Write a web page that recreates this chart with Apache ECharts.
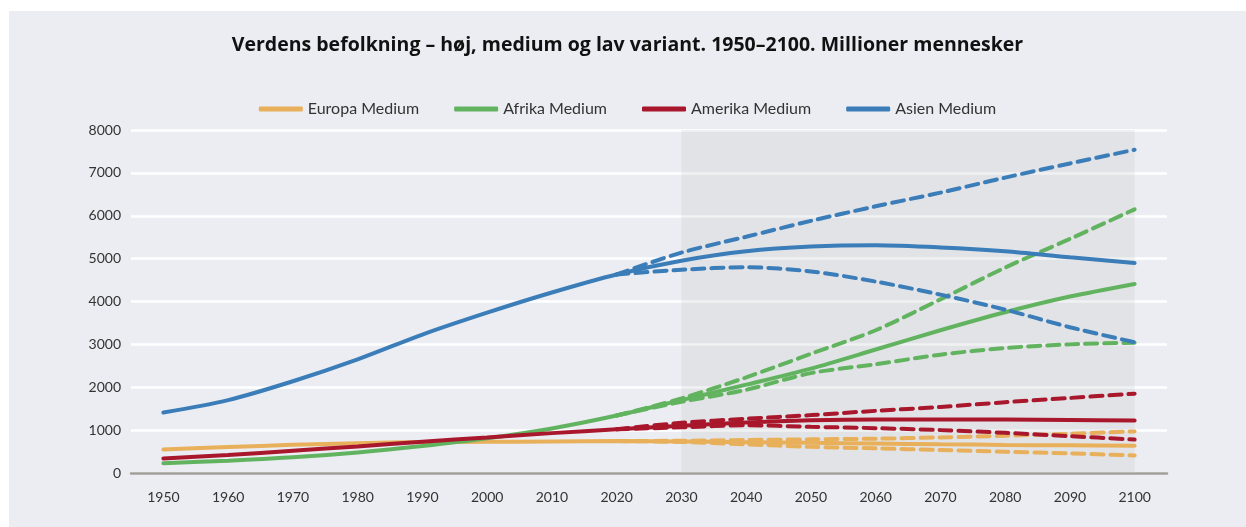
<!DOCTYPE html>
<html>
<head>
<meta charset="utf-8">
<script src="https://cdn.jsdelivr.net/npm/echarts@6/dist/echarts.min.js"></script>
<style>
  html, body { margin: 0; padding: 0; background: #ffffff; }
  #main { position: absolute; left: 9px; top: 11px; width: 1237px; height: 516px; background: #ecedf2; }
</style>
</head>
<body>
<div id="main"></div>
<script>
// År (kategorier)
const years = ['1950', '1960', '1970', '1980', '1990', '2000', '2010', '2020',
  '2030', '2040', '2050', '2060', '2070', '2080', '2090', '2100']

// Medium-varianter (millioner)
const europaMedium = [550, 605, 657, 694, 721, 727, 736, 745, 736, 720, 705, 688, 670, 655, 645, 635]
const afrikaMedium = [230, 285, 365, 480, 630, 810, 1040, 1340, 1700, 2060, 2435, 2880, 3330, 3750, 4115, 4410]
const amerikaMedium = [340, 420, 520, 620, 730, 830, 930, 1020, 1100, 1180, 1230, 1250, 1250, 1245, 1235, 1225]
const asienMedium = [1410, 1700, 2140, 2650, 3230, 3740, 4210, 4630, 4950, 5170, 5280, 5310, 5260, 5170, 5030, 4900]

// Høj og lav variant (fra 2020)
const europaHoj = [null, null, null, null, null, null, null, 745, 752, 770, 785, 800, 830, 870, 915, 970]
const europaLav = [null, null, null, null, null, null, null, 745, 725, 670, 610, 575, 535, 495, 458, 410]
const afrikaHoj = [null, null, null, null, null, null, null, 1340, 1740, 2230, 2780, 3330, 4050, 4790, 5460, 6150]
const afrikaLav = [null, null, null, null, null, null, null, 1340, 1660, 1940, 2330, 2535, 2760, 2915, 3000, 3040]
const amerikaHoj = [null, null, null, null, null, null, null, 1020, 1170, 1265, 1350, 1450, 1540, 1650, 1750, 1850]
const amerikaLav = [null, null, null, null, null, null, null, 1020, 1065, 1115, 1077, 1046, 1000, 937, 860, 780]
const asienHoj = [null, null, null, null, null, null, null, 4630, 5140, 5510, 5880, 6220, 6540, 6890, 7220, 7540]
const asienLav = [null, null, null, null, null, null, null, 4630, 4740, 4800, 4700, 4465, 4160, 3810, 3400, 3050]

const COLORS = {
  europa: '#e8b05a',
  afrika: '#62b35f',
  amerika: '#a8172c',
  asien: '#3a7db8'
}

const solid = (name, data, color) => ({
  name,
  type: 'line',
  data,
  smooth: 0.3,
  symbol: 'none',
  lineStyle: { color, width: 4, cap: 'round' },
  itemStyle: { color }
})

const dashed = (name, data, color) => ({
  name,
  type: 'line',
  data,
  smooth: 0.3,
  symbol: 'none',
  lineStyle: { color, width: 4, type: [12, 7], cap: 'round' },
  itemStyle: { color }
})

const europaSeries = solid('Europa Medium', europaMedium, COLORS.europa)
// skravert prognoseområde 2030–2100
europaSeries.markArea = {
  silent: true,
  itemStyle: { color: 'rgba(198, 199, 202, 0.26)' },
  data: [[{ xAxis: '2030', yAxis: 0 }, { xAxis: '2100', yAxis: 8000 }]]
}

const chart = echarts.init(document.getElementById('main'))

chart.setOption({
  backgroundColor: '#ecedf2',
  animation: false,
  title: {
    text: 'Verdens befolkning – høj, medium og lav variant. 1950–2100. Millioner mennesker',
    left: 'center',
    top: 19,
    padding: [5, 0, 5, 10],
    textStyle: {
      fontFamily: 'Open Sans',
      fontWeight: 'bold',
      fontSize: 19.5,
      color: '#111'
    }
  },
  legend: {
    top: 85,
    left: 'center',
    itemWidth: 44,
    itemHeight: 5,
    itemGap: 35,
    icon: 'roundRect',
    data: ['Europa Medium', 'Afrika Medium', 'Amerika Medium', 'Asien Medium'],
    textStyle: { fontFamily: 'Lato', fontSize: 16, color: '#333' }
  },
  grid: {
    left: 122,
    right: 79,
    top: 119,
    bottom: 54
  },
  xAxis: {
    type: 'category',
    data: years,
    boundaryGap: true,
    axisLine: { lineStyle: { color: '#a19e99', width: 2.5 } },
    axisTick: { show: false },
    axisLabel: { fontFamily: 'Lato', fontSize: 14, color: '#333', margin: 17 }
  },
  yAxis: {
    type: 'value',
    min: 0,
    max: 8000,
    interval: 1000,
    axisLine: { show: false },
    axisTick: { show: false },
    axisLabel: {
      fontFamily: 'Lato',
      fontSize: 14,
      color: '#333',
      margin: 10,
      formatter: v => String(v)
    },
    splitLine: { lineStyle: { color: '#ffffff', width: 2.5 } }
  },
  series: [
    europaSeries,
    dashed('Europa Høj', europaHoj, COLORS.europa),
    dashed('Europa Lav', europaLav, COLORS.europa),
    solid('Afrika Medium', afrikaMedium, COLORS.afrika),
    dashed('Afrika Høj', afrikaHoj, COLORS.afrika),
    dashed('Afrika Lav', afrikaLav, COLORS.afrika),
    solid('Amerika Medium', amerikaMedium, COLORS.amerika),
    dashed('Amerika Høj', amerikaHoj, COLORS.amerika),
    dashed('Amerika Lav', amerikaLav, COLORS.amerika),
    solid('Asien Medium', asienMedium, COLORS.asien),
    dashed('Asien Høj', asienHoj, COLORS.asien),
    dashed('Asien Lav', asienLav, COLORS.asien)
  ]
})
</script>
</body>
</html>
